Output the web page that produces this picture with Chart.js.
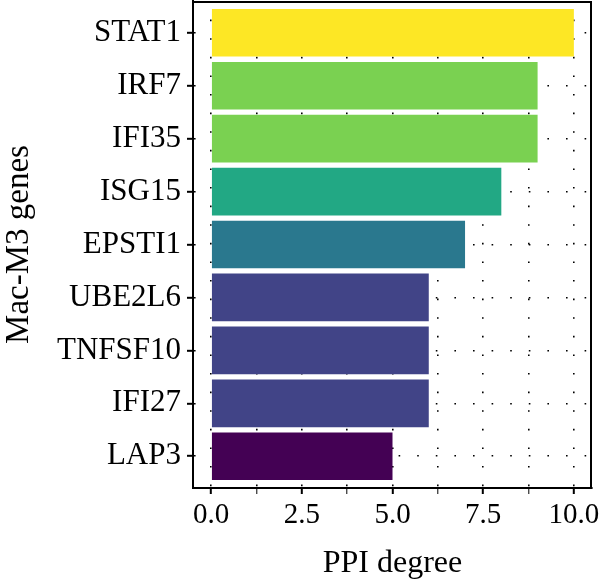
<!DOCTYPE html>
<html>
<head>
<meta charset="utf-8">
<script src="https://cdn.jsdelivr.net/npm/chart.js@4/dist/chart.umd.min.js"></script>
<style>
  html, body { margin: 0; padding: 0; background: #fff; }
  #wrap { width: 600px; height: 587px; position: relative; }
</style>
</head>
<body>
<div id="wrap"><canvas id="c" width="600" height="587"></canvas></div>
<script>
// Data (top to bottom)
const genes = ["STAT1", "IRF7", "IFI35", "ISG15", "EPSTI1", "UBE2L6", "TNFSF10", "IFI27", "LAP3"];
const degrees = [10, 9, 9, 8, 7, 6, 6, 6, 5];
const xTicks = [0, 2.5, 5, 7.5, 10];
const barColors = ["#FDE725", "#7AD151", "#7AD151", "#22A884", "#2A788E", "#414487", "#414487", "#414487", "#440154"];

const FONT = "'Liberation Serif', 'Times New Roman', serif";

const boxPlugin = {
  id: 'box',
  afterDraw(chart) {
    const { ctx, chartArea: a } = chart;
    ctx.save();
    ctx.strokeStyle = '#000';
    ctx.lineWidth = 2;
    ctx.setLineDash([]);
    ctx.beginPath();
    ctx.moveTo(a.left, a.top + 1);
    ctx.lineTo(a.right - 1, a.top + 1);
    ctx.lineTo(a.right - 1, a.bottom);
    ctx.stroke();
    ctx.restore();
  }
};

new Chart(document.getElementById('c'), {
  type: 'bar',
  data: {
    datasets: [{
      data: genes.map((g, i) => ({ x: degrees[i], y: i })),
      backgroundColor: barColors,
      borderWidth: 0,
      barPercentage: 0.9,
      categoryPercentage: 1.0
    }]
  },
  options: {
    indexAxis: 'y',
    responsive: false,
    animation: false,
    layout: { padding: { top: 1, right: 8, left: 0, bottom: 0 } },
    plugins: { legend: { display: false }, tooltip: { enabled: false } },
    scales: {
      x: {
        type: 'linear',
        offset: false,
        min: -0.5,
        max: 10.5,
        afterBuildTicks(s) {
          const t = [];
          for (let i = 0; i < xTicks.length; i++) {
            t.push({ value: xTicks[i] });
            if (i < xTicks.length - 1) t.push({ value: (xTicks[i] + xTicks[i + 1]) / 2 });
          }
          s.ticks = t;
        },
        afterFit(s) { s.height = 99; s.paddingLeft = 0; s.paddingRight = 0; },
        ticks: {
          autoSkip: false,
          maxRotation: 0,
          padding: 4,
          color: '#000',
          font: { family: FONT, size: 29 },
          callback: (v) => xTicks.includes(v) ? v.toFixed(1) : ''
        },
        grid: {
          offset: false,
          color: '#000',
          lineWidth: 1.6,
          tickColor: '#000',
          tickLength: 6,
          tickWidth: (c) => xTicks.includes(c.tick && c.tick.value) ? 2 : 1,
          drawOnChartArea: true
        },
        border: { display: true, color: '#000', width: 2, dash: [1.6, 17] },
        title: {
          display: true,
          text: 'PPI degree',
          color: '#000',
          font: { family: FONT, size: 32 },
          padding: { top: 0, bottom: 4 }
        }
      },
      y: {
        type: 'linear',
        offset: false,
        reverse: true,
        min: -0.6,
        max: genes.length - 1 + 0.6,
        afterBuildTicks(s) { s.ticks = genes.map((g, i) => ({ value: i })); },
        afterFit(s) { s.width = 193; s.paddingTop = 0; s.paddingBottom = 0; },
        ticks: {
          autoSkip: false,
          padding: 6,
          color: '#000',
          font: { family: FONT, size: 31 },
          callback: (v) => genes[v] !== undefined ? genes[v] : ''
        },
        grid: {
          offset: false,
          color: '#000',
          lineWidth: 1.6,
          tickColor: '#000',
          tickLength: 6,
          tickWidth: 2
        },
        border: { display: true, color: '#000', width: 2, dash: [1.6, 17] },
        title: {
          display: true,
          text: 'Mac-M3 genes',
          color: '#000',
          font: { family: FONT, size: 33 },
          padding: { top: 0, bottom: 0 }
        }
      }
    }
  },
  plugins: [boxPlugin]
});
</script>
</body>
</html>
